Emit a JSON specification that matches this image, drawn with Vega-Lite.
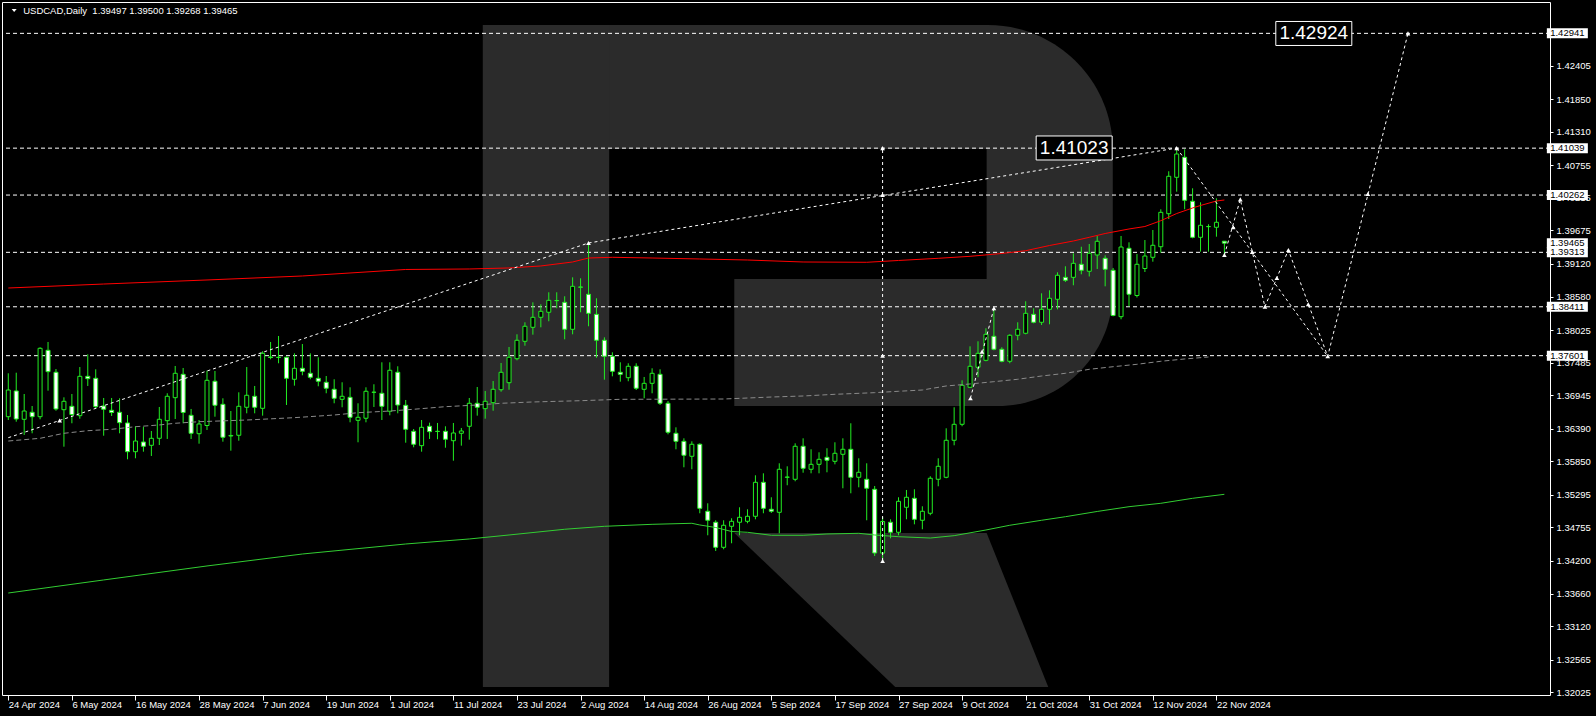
{
"$schema":"https://vega.github.io/schema/vega-lite/v6.json",
"width":1548,"height":693,
"autosize":{"type":"none"},
"padding":{"left":2,"top":2,"right":46,"bottom":21},
"background":"#000000",
"config":{"view":{"stroke":"#ffffff","strokeWidth":1,"fill":"#000000"},
 "axis":{"grid":false,"domain":false,"tickColor":"#ffffff","labelColor":"#ffffff","labelFont":"Liberation Sans","labelFontSize":9.5,"labelOverlap":false,"labelFlush":false,"labelBound":false,"labelSeparation":0},
 "axisBottom":{"tickSize":5,"labelAlign":"left","labelPadding":-1,"labelDx":1},
 "axisRight":{"tickSize":3,"labelPadding":3}},
"datasets":{
"candles":[
{"i":0,"o":1.3659,"h":1.37309,"l":1.36535,"c":1.37032},
{"i":1,"o":1.37016,"h":1.37319,"l":1.36507,"c":1.36552},
{"i":2,"o":1.36547,"h":1.36966,"l":1.36287,"c":1.36684},
{"i":3,"o":1.36663,"h":1.36767,"l":1.36315,"c":1.3659},
{"i":4,"o":1.3659,"h":1.3774,"l":1.36547,"c":1.37723},
{"i":5,"o":1.3769,"h":1.37828,"l":1.37021,"c":1.37336},
{"i":6,"o":1.37326,"h":1.3738,"l":1.36689,"c":1.36718},
{"i":7,"o":1.36706,"h":1.36911,"l":1.36093,"c":1.36845},
{"i":8,"o":1.36762,"h":1.36966,"l":1.36481,"c":1.36626},
{"i":9,"o":1.36607,"h":1.37413,"l":1.36557,"c":1.37259},
{"i":10,"o":1.37259,"h":1.37624,"l":1.37099,"c":1.3722},
{"i":11,"o":1.37226,"h":1.37375,"l":1.36729,"c":1.36756},
{"i":12,"o":1.36767,"h":1.369,"l":1.36275,"c":1.36713},
{"i":13,"o":1.36696,"h":1.369,"l":1.36602,"c":1.3666},
{"i":14,"o":1.36663,"h":1.36895,"l":1.36315,"c":1.36491},
{"i":15,"o":1.36486,"h":1.36618,"l":1.35884,"c":1.3601},
{"i":16,"o":1.3601,"h":1.36431,"l":1.35901,"c":1.36187},
{"i":17,"o":1.36171,"h":1.36424,"l":1.3601,"c":1.361},
{"i":18,"o":1.36116,"h":1.36353,"l":1.35939,"c":1.36232},
{"i":19,"o":1.36232,"h":1.36751,"l":1.36121,"c":1.36547},
{"i":20,"o":1.36524,"h":1.36978,"l":1.36221,"c":1.36928},
{"i":21,"o":1.36905,"h":1.3743,"l":1.36552,"c":1.37309},
{"i":22,"o":1.37292,"h":1.37397,"l":1.36481,"c":1.3666},
{"i":23,"o":1.36613,"h":1.36718,"l":1.36221,"c":1.36315},
{"i":24,"o":1.36308,"h":1.36535,"l":1.36143,"c":1.36469},
{"i":25,"o":1.36444,"h":1.37352,"l":1.3637,"c":1.37193},
{"i":26,"o":1.37177,"h":1.37347,"l":1.3659,"c":1.36779},
{"i":27,"o":1.36795,"h":1.36895,"l":1.36176,"c":1.36249},
{"i":28,"o":1.3627,"h":1.36684,"l":1.36027,"c":1.36279},
{"i":29,"o":1.36282,"h":1.36994,"l":1.36192,"c":1.36762},
{"i":30,"o":1.36746,"h":1.37413,"l":1.36646,"c":1.36945},
{"i":31,"o":1.36928,"h":1.37099,"l":1.36646,"c":1.36746},
{"i":32,"o":1.36729,"h":1.37674,"l":1.36607,"c":1.3764},
{"i":33,"o":1.37579,"h":1.37828,"l":1.37541,"c":1.37571},
{"i":34,"o":1.37574,"h":1.37927,"l":1.37475,"c":1.37571},
{"i":35,"o":1.37574,"h":1.37587,"l":1.36784,"c":1.37226},
{"i":36,"o":1.3721,"h":1.3764,"l":1.37104,"c":1.37392},
{"i":37,"o":1.37392,"h":1.37794,"l":1.37276,"c":1.37342},
{"i":38,"o":1.37309,"h":1.3764,"l":1.3721,"c":1.37243},
{"i":39,"o":1.37226,"h":1.37574,"l":1.37094,"c":1.37177},
{"i":40,"o":1.3716,"h":1.37264,"l":1.36978,"c":1.37061},
{"i":41,"o":1.37044,"h":1.3721,"l":1.36812,"c":1.36895},
{"i":42,"o":1.36878,"h":1.3716,"l":1.36746,"c":1.36928},
{"i":43,"o":1.36911,"h":1.37077,"l":1.36497,"c":1.3658},
{"i":44,"o":1.3653,"h":1.36812,"l":1.36166,"c":1.3658},
{"i":45,"o":1.36564,"h":1.37077,"l":1.36497,"c":1.37011},
{"i":46,"o":1.36994,"h":1.37127,"l":1.36751,"c":1.36996},
{"i":47,"o":1.36978,"h":1.37491,"l":1.36535,"c":1.36762},
{"i":48,"o":1.3668,"h":1.37491,"l":1.36613,"c":1.37359},
{"i":49,"o":1.37326,"h":1.37425,"l":1.36646,"c":1.36784},
{"i":50,"o":1.36779,"h":1.36867,"l":1.36159,"c":1.36381},
{"i":51,"o":1.36348,"h":1.36386,"l":1.36083,"c":1.36133},
{"i":52,"o":1.3611,"h":1.36535,"l":1.3601,"c":1.36414},
{"i":53,"o":1.36431,"h":1.36491,"l":1.36221,"c":1.36342},
{"i":54,"o":1.36348,"h":1.36486,"l":1.36216,"c":1.36345},
{"i":55,"o":1.36348,"h":1.36431,"l":1.36076,"c":1.36216},
{"i":56,"o":1.36192,"h":1.36486,"l":1.35861,"c":1.3632},
{"i":57,"o":1.36315,"h":1.36403,"l":1.3611,"c":1.36353},
{"i":58,"o":1.36431,"h":1.369,"l":1.36209,"c":1.36812},
{"i":59,"o":1.36812,"h":1.37082,"l":1.36607,"c":1.36746},
{"i":60,"o":1.36723,"h":1.37016,"l":1.36557,"c":1.36845},
{"i":61,"o":1.36822,"h":1.37181,"l":1.36689,"c":1.37044},
{"i":62,"o":1.37037,"h":1.3748,"l":1.37004,"c":1.37326},
{"i":63,"o":1.37153,"h":1.37745,"l":1.37037,"c":1.37574},
{"i":64,"o":1.37551,"h":1.37955,"l":1.37524,"c":1.37856},
{"i":65,"o":1.37839,"h":1.38154,"l":1.37766,"c":1.38088},
{"i":66,"o":1.38071,"h":1.38485,"l":1.37949,"c":1.38237},
{"i":67,"o":1.38237,"h":1.38452,"l":1.38071,"c":1.38336},
{"i":68,"o":1.3832,"h":1.38651,"l":1.38171,"c":1.38518},
{"i":69,"o":1.38512,"h":1.38651,"l":1.38386,"c":1.38515},
{"i":70,"o":1.38485,"h":1.38585,"l":1.37872,"c":1.38038},
{"i":71,"o":1.38038,"h":1.38899,"l":1.37955,"c":1.3875},
{"i":72,"o":1.38734,"h":1.38883,"l":1.3832,"c":1.38739},
{"i":73,"o":1.38618,"h":1.39468,"l":1.38088,"c":1.38303},
{"i":74,"o":1.38286,"h":1.38552,"l":1.37567,"c":1.37856},
{"i":75,"o":1.37856,"h":1.37905,"l":1.37203,"c":1.37591},
{"i":76,"o":1.37591,"h":1.37657,"l":1.37259,"c":1.37342},
{"i":77,"o":1.37326,"h":1.37491,"l":1.3717,"c":1.37292},
{"i":78,"o":1.37236,"h":1.37475,"l":1.37177,"c":1.37425},
{"i":79,"o":1.37425,"h":1.37475,"l":1.37032,"c":1.37061},
{"i":80,"o":1.37044,"h":1.37248,"l":1.36895,"c":1.37143},
{"i":81,"o":1.37143,"h":1.37392,"l":1.36978,"c":1.37309},
{"i":82,"o":1.37292,"h":1.37375,"l":1.36784,"c":1.36812},
{"i":83,"o":1.36812,"h":1.3685,"l":1.36298,"c":1.36332},
{"i":84,"o":1.36315,"h":1.36414,"l":1.3605,"c":1.36182},
{"i":85,"o":1.36182,"h":1.36232,"l":1.35752,"c":1.35951},
{"i":86,"o":1.35934,"h":1.36182,"l":1.35719,"c":1.36133},
{"i":87,"o":1.36133,"h":1.36149,"l":1.3499,"c":1.35072},
{"i":88,"o":1.35023,"h":1.35155,"l":1.34625,"c":1.34874},
{"i":89,"o":1.34841,"h":1.34874,"l":1.34365,"c":1.34426},
{"i":90,"o":1.34426,"h":1.34874,"l":1.34393,"c":1.34791},
{"i":91,"o":1.34774,"h":1.34907,"l":1.34493,"c":1.34857},
{"i":92,"o":1.34841,"h":1.35089,"l":1.34625,"c":1.34923},
{"i":93,"o":1.34857,"h":1.35056,"l":1.34824,"c":1.3494},
{"i":94,"o":1.3494,"h":1.35619,"l":1.3489,"c":1.35503},
{"i":95,"o":1.35503,"h":1.35652,"l":1.3499,"c":1.35072},
{"i":96,"o":1.35056,"h":1.35255,"l":1.34995,"c":1.35023},
{"i":97,"o":1.35006,"h":1.35818,"l":1.34658,"c":1.35719},
{"i":98,"o":1.35586,"h":1.35768,"l":1.35454,"c":1.3559},
{"i":99,"o":1.35553,"h":1.36149,"l":1.3552,"c":1.361},
{"i":100,"o":1.361,"h":1.36232,"l":1.35662,"c":1.35735},
{"i":101,"o":1.35719,"h":1.3605,"l":1.35652,"c":1.35801},
{"i":102,"o":1.35801,"h":1.36,"l":1.35652,"c":1.35884},
{"i":103,"o":1.35917,"h":1.36067,"l":1.35669,"c":1.35868},
{"i":104,"o":1.35851,"h":1.36166,"l":1.35801,"c":1.35984},
{"i":105,"o":1.35967,"h":1.36232,"l":1.35404,"c":1.3605},
{"i":106,"o":1.3605,"h":1.36481,"l":1.35321,"c":1.35586},
{"i":107,"o":1.35586,"h":1.35901,"l":1.3542,"c":1.35669},
{"i":108,"o":1.35553,"h":1.35818,"l":1.34874,"c":1.35404},
{"i":109,"o":1.35387,"h":1.35442,"l":1.34282,"c":1.34332},
{"i":110,"o":1.3433,"h":1.34928,"l":1.34199,"c":1.34854},
{"i":111,"o":1.34841,"h":1.3489,"l":1.34575,"c":1.34675},
{"i":112,"o":1.34675,"h":1.35255,"l":1.34625,"c":1.35188},
{"i":113,"o":1.35089,"h":1.35376,"l":1.3489,"c":1.35255},
{"i":114,"o":1.35238,"h":1.35387,"l":1.34807,"c":1.3489},
{"i":115,"o":1.34874,"h":1.35106,"l":1.34725,"c":1.35023},
{"i":116,"o":1.3499,"h":1.35603,"l":1.34957,"c":1.3557},
{"i":117,"o":1.35553,"h":1.35901,"l":1.35437,"c":1.35768},
{"i":118,"o":1.35586,"h":1.36398,"l":1.3557,"c":1.36199},
{"i":119,"o":1.36199,"h":1.36746,"l":1.36116,"c":1.36464},
{"i":120,"o":1.36464,"h":1.37193,"l":1.36431,"c":1.3711},
{"i":121,"o":1.37077,"h":1.37756,"l":1.37066,"c":1.37425},
{"i":122,"o":1.37408,"h":1.37839,"l":1.37243,"c":1.3764},
{"i":123,"o":1.37524,"h":1.38055,"l":1.37508,"c":1.37955},
{"i":124,"o":1.37922,"h":1.38386,"l":1.3769,"c":1.37707},
{"i":125,"o":1.37707,"h":1.3774,"l":1.37491,"c":1.37508},
{"i":126,"o":1.37508,"h":1.37955,"l":1.37475,"c":1.37939},
{"i":127,"o":1.37939,"h":1.38154,"l":1.37856,"c":1.38038},
{"i":128,"o":1.37972,"h":1.38502,"l":1.37955,"c":1.38303},
{"i":129,"o":1.38286,"h":1.38386,"l":1.38137,"c":1.38154},
{"i":130,"o":1.38154,"h":1.38634,"l":1.38109,"c":1.38369},
{"i":131,"o":1.38369,"h":1.38684,"l":1.38121,"c":1.38552},
{"i":132,"o":1.38535,"h":1.38982,"l":1.38369,"c":1.38933},
{"i":133,"o":1.38899,"h":1.39082,"l":1.38822,"c":1.3885},
{"i":134,"o":1.38899,"h":1.39297,"l":1.38767,"c":1.39131},
{"i":135,"o":1.39115,"h":1.39406,"l":1.38949,"c":1.39015},
{"i":136,"o":1.38999,"h":1.39451,"l":1.38913,"c":1.39297},
{"i":137,"o":1.39269,"h":1.39584,"l":1.39037,"c":1.39496},
{"i":138,"o":1.39214,"h":1.39264,"l":1.3875,"c":1.39032},
{"i":139,"o":1.39015,"h":1.39054,"l":1.38253,"c":1.38267},
{"i":140,"o":1.38247,"h":1.39584,"l":1.38204,"c":1.39401},
{"i":141,"o":1.3938,"h":1.39479,"l":1.38419,"c":1.38618},
{"i":142,"o":1.38598,"h":1.39285,"l":1.38565,"c":1.39115},
{"i":143,"o":1.39045,"h":1.39517,"l":1.38987,"c":1.39252},
{"i":144,"o":1.39231,"h":1.39683,"l":1.39158,"c":1.3943},
{"i":145,"o":1.39406,"h":1.40026,"l":1.39307,"c":1.39976},
{"i":146,"o":1.39953,"h":1.40656,"l":1.39865,"c":1.40573},
{"i":147,"o":1.40556,"h":1.4104,"l":1.40318,"c":1.40942},
{"i":148,"o":1.40888,"h":1.4102,"l":1.40026,"c":1.40175},
{"i":149,"o":1.40159,"h":1.40374,"l":1.39546,"c":1.39562},
{"i":150,"o":1.39562,"h":1.40142,"l":1.39324,"c":1.39761},
{"i":151,"o":1.39738,"h":1.39778,"l":1.39324,"c":1.39741},
{"i":152,"o":1.39728,"h":1.40208,"l":1.39572,"c":1.39811},
{"i":153,"o":1.39497,"h":1.395,"l":1.39268,"c":1.39465}
],
"maRed":[
{"i":0,"v":1.38722},{"i":12,"v":1.38788},{"i":25,"v":1.38855},{"i":37,"v":1.38921},{"i":50,"v":1.39029},{"i":58,"v":1.39037},{"i":63,"v":1.39054},{"i":67,"v":1.39087},{"i":71,"v":1.39153},{"i":73,"v":1.39219},{"i":76,"v":1.39231},{"i":81,"v":1.39219},{"i":87,"v":1.39203},{"i":93,"v":1.39186},{"i":100,"v":1.39153},{"i":108,"v":1.39148},{"i":112,"v":1.39178},{"i":117,"v":1.39214},{"i":121,"v":1.39247},{"i":125,"v":1.39294},{"i":128,"v":1.3934},{"i":131,"v":1.39426},{"i":134,"v":1.39501},{"i":136,"v":1.39562},{"i":138,"v":1.39625},{"i":141,"v":1.397},{"i":143,"v":1.39741},{"i":145,"v":1.39837},{"i":147,"v":1.39956},{"i":149,"v":1.40048},{"i":150,"v":1.40089},{"i":152,"v":1.40164},{"i":153,"v":1.4018}
],
"maGreen":[
{"i":0,"v":1.33669},{"i":12,"v":1.33885},{"i":25,"v":1.34117},{"i":37,"v":1.34315},{"i":50,"v":1.34481},{"i":58,"v":1.34564},{"i":63,"v":1.3463},{"i":70,"v":1.34725},{"i":75,"v":1.34774},{"i":81,"v":1.34807},{"i":86,"v":1.34824},{"i":87,"v":1.34796},{"i":89,"v":1.34754},{"i":91,"v":1.34688},{"i":93,"v":1.34675},{"i":96,"v":1.34625},{"i":100,"v":1.34625},{"i":103,"v":1.34647},{"i":107,"v":1.34658},{"i":109,"v":1.3463},{"i":112,"v":1.34602},{"i":116,"v":1.3458},{"i":119,"v":1.34619},{"i":123,"v":1.34713},{"i":126,"v":1.34791},{"i":130,"v":1.34874},{"i":133,"v":1.34933},{"i":137,"v":1.3502},{"i":141,"v":1.35099},{"i":145,"v":1.35155},{"i":149,"v":1.35238},{"i":153,"v":1.35304}
],
"maGray":[
{"i":0,"v":1.36187},{"i":4,"v":1.36232},{"i":7,"v":1.36315},{"i":10,"v":1.36358},{"i":13,"v":1.36381},{"i":16,"v":1.36424},{"i":19,"v":1.36453},{"i":21,"v":1.36481},{"i":24,"v":1.36507},{"i":30,"v":1.36535},{"i":36,"v":1.36574},{"i":41,"v":1.36618},{"i":44,"v":1.36656},{"i":48,"v":1.36684},{"i":51,"v":1.36713},{"i":55,"v":1.36756},{"i":59,"v":1.36784},{"i":62,"v":1.36812},{"i":66,"v":1.36834},{"i":72,"v":1.36855},{"i":77,"v":1.36878},{"i":90,"v":1.36883},{"i":96,"v":1.36916},{"i":100,"v":1.36933},{"i":104,"v":1.36961},{"i":109,"v":1.36988},{"i":112,"v":1.37011},{"i":115,"v":1.37032},{"i":118,"v":1.37099},{"i":121,"v":1.37132},{"i":124,"v":1.3717},{"i":127,"v":1.3721},{"i":130,"v":1.37264},{"i":133,"v":1.37309},{"i":136,"v":1.37375},{"i":139,"v":1.37418},{"i":142,"v":1.37458},{"i":145,"v":1.37508},{"i":148,"v":1.37546},{"i":151,"v":1.37579}
],
"levels":[{"p":1.42941},{"p":1.41039},{"p":1.40262},{"p":1.39313},{"p":1.38411},{"p":1.37601}],
"paths":[
{"g":"t1","k":0,"i":0,"p":1.36242},{"g":"t1","k":1,"i":73,"p":1.39468},
{"g":"t2","k":0,"i":73,"p":1.39468},{"g":"t2","k":1,"i":147,"p":1.4104},
{"g":"v","k":0,"i":110,"p":1.34199},{"g":"v","k":1,"i":110,"p":1.41039},
{"g":"w","k":0,"i":121.05,"p":1.36895},{"g":"w","k":1,"i":124,"p":1.38386},
{"g":"a","k":0,"i":153,"p":1.39269},{"g":"a","k":1,"i":155,"p":1.4019},{"g":"a","k":2,"i":158.1,"p":1.38411},{"g":"a","k":3,"i":161.05,"p":1.39352},{"g":"a","k":4,"i":166,"p":1.3759},{"g":"a","k":5,"i":176.1,"p":1.42941},
{"g":"b","k":0,"i":147,"p":1.4104},{"g":"b","k":1,"i":166,"p":1.3759}
],
"marks":[
{"i":6.46,"p":1.36527},{"i":73,"p":1.39468},{"i":110,"p":1.34199},{"i":110,"p":1.40262},{"i":110,"p":1.37601},{"i":110,"p":1.41039},{"i":121.05,"p":1.36895},{"i":122.5,"p":1.37667},{"i":124,"p":1.38386},{"i":147,"p":1.4104},{"i":153,"p":1.39269},{"i":154.1,"p":1.39728},{"i":155,"p":1.4019},{"i":156.5,"p":1.3932},{"i":158.1,"p":1.38411},{"i":159.6,"p":1.38888},{"i":161.05,"p":1.39352},{"i":163.55,"p":1.38452},{"i":166,"p":1.3759},{"i":171.05,"p":1.40279},{"i":176.1,"p":1.42941}
],
"tags":[{"p":1.42941},{"p":1.41039},{"p":1.40262},{"p":1.39465},{"p":1.39313},{"p":1.38411},{"p":1.37601}],
"bigLabels":[{"t":"1.41023","i":134.1,"p":1.41042},{"t":"1.42924","i":164.25,"p":1.42939}],
"leg":[{"ly":1.34663,"lx1":91.34,"lx2":123.09},{"ly":1.32112,"lx1":111.59,"lx2":130.84}]
},
"layer":[
{"data":{"values":[{}]},
 "mark":{"type":"rect","fill":"#2b2b2b","cornerRadiusTopRight":125,"cornerRadiusBottomRight":115},
 "encoding":{
  "x":{"datum":59.71,"type":"quantitative","scale":{"domain":[-0.1625,193.3375],"nice":false,"zero":false},"axis":{"orient":"bottom","values":[0,8,16,24,32,40,48,56,64,72,80,88,96,104,112,120,128,136,144,152],"labelExpr":"['24 Apr 2024','6 May 2024','16 May 2024','28 May 2024','7 Jun 2024','19 Jun 2024','1 Jul 2024','11 Jul 2024','23 Jul 2024','2 Aug 2024','14 Aug 2024','26 Aug 2024','5 Sep 2024','17 Sep 2024','27 Sep 2024','9 Oct 2024','21 Oct 2024','31 Oct 2024','12 Nov 2024','22 Nov 2024'][round(datum.value/8)]","title":null,"labelOverlap":false}},
  "x2":{"datum":138.96},
  "y":{"datum":1.43079,"type":"quantitative","scale":{"domain":[1.319792,1.434604],"nice":false,"zero":false},"axis":{"orient":"right","values":[1.32025,1.32565,1.3312,1.3366,1.342,1.34755,1.35295,1.3585,1.3639,1.36945,1.37485,1.38025,1.3858,1.3912,1.39675,1.40215,1.40755,1.4131,1.4185,1.42405],"format":".5f","title":null,"labelOverlap":false}},
  "y2":{"datum":1.36767}}},
{"data":{"values":[{}]},
 "mark":{"type":"rect","fill":"#000000"},
 "encoding":{
  "x":{"datum":75.59,"type":"quantitative","scale":{"domain":[-0.1625,193.3375],"nice":false,"zero":false},"axis":{"orient":"bottom","values":[0,8,16,24,32,40,48,56,64,72,80,88,96,104,112,120,128,136,144,152],"labelExpr":"['24 Apr 2024','6 May 2024','16 May 2024','28 May 2024','7 Jun 2024','19 Jun 2024','1 Jul 2024','11 Jul 2024','23 Jul 2024','2 Aug 2024','14 Aug 2024','26 Aug 2024','5 Sep 2024','17 Sep 2024','27 Sep 2024','9 Oct 2024','21 Oct 2024','31 Oct 2024','12 Nov 2024','22 Nov 2024'][round(datum.value/8)]","title":null,"labelOverlap":false}},
  "x2":{"datum":123.09},
  "y":{"datum":1.41025,"type":"quantitative","scale":{"domain":[1.319792,1.434604],"nice":false,"zero":false},"axis":{"orient":"right","values":[1.32025,1.32565,1.3312,1.3366,1.342,1.34755,1.35295,1.3585,1.3639,1.36945,1.37485,1.38025,1.3858,1.3912,1.39675,1.40215,1.40755,1.4131,1.4185,1.42405],"format":".5f","title":null,"labelOverlap":false}},
  "y2":{"datum":1.38871}}},
{"data":{"values":[{}]},
 "mark":{"type":"rect","fill":"#000000"},
 "encoding":{
  "x":{"datum":75.59,"type":"quantitative","scale":{"domain":[-0.1625,193.3375],"nice":false,"zero":false},"axis":{"orient":"bottom","values":[0,8,16,24,32,40,48,56,64,72,80,88,96,104,112,120,128,136,144,152],"labelExpr":"['24 Apr 2024','6 May 2024','16 May 2024','28 May 2024','7 Jun 2024','19 Jun 2024','1 Jul 2024','11 Jul 2024','23 Jul 2024','2 Aug 2024','14 Aug 2024','26 Aug 2024','5 Sep 2024','17 Sep 2024','27 Sep 2024','9 Oct 2024','21 Oct 2024','31 Oct 2024','12 Nov 2024','22 Nov 2024'][round(datum.value/8)]","title":null,"labelOverlap":false}},
  "x2":{"datum":91.34},
  "y":{"datum":1.38871,"type":"quantitative","scale":{"domain":[1.319792,1.434604],"nice":false,"zero":false},"axis":{"orient":"right","values":[1.32025,1.32565,1.3312,1.3366,1.342,1.34755,1.35295,1.3585,1.3639,1.36945,1.37485,1.38025,1.3858,1.3912,1.39675,1.40215,1.40755,1.4131,1.4185,1.42405],"format":".5f","title":null,"labelOverlap":false}},
  "y2":{"datum":1.36767}}},
{"data":{"values":[{}]},
 "mark":{"type":"rect","fill":"#2b2b2b"},
 "encoding":{
  "x":{"datum":59.71,"type":"quantitative","scale":{"domain":[-0.1625,193.3375],"nice":false,"zero":false},"axis":{"orient":"bottom","values":[0,8,16,24,32,40,48,56,64,72,80,88,96,104,112,120,128,136,144,152],"labelExpr":"['24 Apr 2024','6 May 2024','16 May 2024','28 May 2024','7 Jun 2024','19 Jun 2024','1 Jul 2024','11 Jul 2024','23 Jul 2024','2 Aug 2024','14 Aug 2024','26 Aug 2024','5 Sep 2024','17 Sep 2024','27 Sep 2024','9 Oct 2024','21 Oct 2024','31 Oct 2024','12 Nov 2024','22 Nov 2024'][round(datum.value/8)]","title":null,"labelOverlap":false}},
  "x2":{"datum":75.59},
  "y":{"datum":1.43079,"type":"quantitative","scale":{"domain":[1.319792,1.434604],"nice":false,"zero":false},"axis":{"orient":"right","values":[1.32025,1.32565,1.3312,1.3366,1.342,1.34755,1.35295,1.3585,1.3639,1.36945,1.37485,1.38025,1.3858,1.3912,1.39675,1.40215,1.40755,1.4131,1.4185,1.42405],"format":".5f","title":null,"labelOverlap":false}},
  "y2":{"datum":1.32112}}},
{"data":{"name":"leg"},
 "mark":{"type":"area","orient":"horizontal","fill":"#2b2b2b"},
 "encoding":{
  "y":{"field":"ly","type":"quantitative","scale":{"domain":[1.319792,1.434604],"nice":false,"zero":false},"axis":{"orient":"right","values":[1.32025,1.32565,1.3312,1.3366,1.342,1.34755,1.35295,1.3585,1.3639,1.36945,1.37485,1.38025,1.3858,1.3912,1.39675,1.40215,1.40755,1.4131,1.4185,1.42405],"format":".5f","title":null,"labelOverlap":false}},
  "x":{"field":"lx1","type":"quantitative","scale":{"domain":[-0.1625,193.3375],"nice":false,"zero":false},"axis":{"orient":"bottom","values":[0,8,16,24,32,40,48,56,64,72,80,88,96,104,112,120,128,136,144,152],"labelExpr":"['24 Apr 2024','6 May 2024','16 May 2024','28 May 2024','7 Jun 2024','19 Jun 2024','1 Jul 2024','11 Jul 2024','23 Jul 2024','2 Aug 2024','14 Aug 2024','26 Aug 2024','5 Sep 2024','17 Sep 2024','27 Sep 2024','9 Oct 2024','21 Oct 2024','31 Oct 2024','12 Nov 2024','22 Nov 2024'][round(datum.value/8)]","title":null,"labelOverlap":false}},
  "x2":{"field":"lx2"}}},
{"data":{"name":"levels"},
 "mark":{"type":"rule","color":"#ffffff","strokeWidth":1,"strokeDash":[4,3]},
 "encoding":{
  "y":{"field":"p","type":"quantitative","scale":{"domain":[1.319792,1.434604],"nice":false,"zero":false},"axis":{"orient":"right","values":[1.32025,1.32565,1.3312,1.3366,1.342,1.34755,1.35295,1.3585,1.3639,1.36945,1.37485,1.38025,1.3858,1.3912,1.39675,1.40215,1.40755,1.4131,1.4185,1.42405],"format":".5f","title":null,"labelOverlap":false}}}},
{"data":{"name":"candles"},
 "mark":{"type":"rule","color":"#22ee22","strokeWidth":1,"clip":true},
 "encoding":{
  "x":{"field":"i","type":"quantitative","scale":{"domain":[-0.1625,193.3375],"nice":false,"zero":false},"axis":{"orient":"bottom","values":[0,8,16,24,32,40,48,56,64,72,80,88,96,104,112,120,128,136,144,152],"labelExpr":"['24 Apr 2024','6 May 2024','16 May 2024','28 May 2024','7 Jun 2024','19 Jun 2024','1 Jul 2024','11 Jul 2024','23 Jul 2024','2 Aug 2024','14 Aug 2024','26 Aug 2024','5 Sep 2024','17 Sep 2024','27 Sep 2024','9 Oct 2024','21 Oct 2024','31 Oct 2024','12 Nov 2024','22 Nov 2024'][round(datum.value/8)]","title":null,"labelOverlap":false}},
  "y":{"field":"l","type":"quantitative","scale":{"domain":[1.319792,1.434604],"nice":false,"zero":false},"axis":{"orient":"right","values":[1.32025,1.32565,1.3312,1.3366,1.342,1.34755,1.35295,1.3585,1.3639,1.36945,1.37485,1.38025,1.3858,1.3912,1.39675,1.40215,1.40755,1.4131,1.4185,1.42405],"format":".5f","title":null,"labelOverlap":false}},
  "y2":{"field":"h"}}},
{"data":{"name":"candles"},
 "mark":{"type":"bar","size":4,"stroke":"#22ee22","strokeWidth":1,"clip":true},
 "encoding":{
  "x":{"field":"i","type":"quantitative","scale":{"domain":[-0.1625,193.3375],"nice":false,"zero":false},"axis":{"orient":"bottom","values":[0,8,16,24,32,40,48,56,64,72,80,88,96,104,112,120,128,136,144,152],"labelExpr":"['24 Apr 2024','6 May 2024','16 May 2024','28 May 2024','7 Jun 2024','19 Jun 2024','1 Jul 2024','11 Jul 2024','23 Jul 2024','2 Aug 2024','14 Aug 2024','26 Aug 2024','5 Sep 2024','17 Sep 2024','27 Sep 2024','9 Oct 2024','21 Oct 2024','31 Oct 2024','12 Nov 2024','22 Nov 2024'][round(datum.value/8)]","title":null,"labelOverlap":false}},
  "y":{"field":"o","type":"quantitative","scale":{"domain":[1.319792,1.434604],"nice":false,"zero":false},"axis":{"orient":"right","values":[1.32025,1.32565,1.3312,1.3366,1.342,1.34755,1.35295,1.3585,1.3639,1.36945,1.37485,1.38025,1.3858,1.3912,1.39675,1.40215,1.40755,1.4131,1.4185,1.42405],"format":".5f","title":null,"labelOverlap":false}},
  "y2":{"field":"c"},
  "fill":{"condition":{"test":"datum.c < datum.o","value":"#ffffff"},"value":"#000000"}}},
{"data":{"name":"maRed"},
 "mark":{"type":"line","color":"#ff0000","strokeWidth":1,"clip":true},
 "encoding":{
  "x":{"field":"i","type":"quantitative","scale":{"domain":[-0.1625,193.3375],"nice":false,"zero":false},"axis":{"orient":"bottom","values":[0,8,16,24,32,40,48,56,64,72,80,88,96,104,112,120,128,136,144,152],"labelExpr":"['24 Apr 2024','6 May 2024','16 May 2024','28 May 2024','7 Jun 2024','19 Jun 2024','1 Jul 2024','11 Jul 2024','23 Jul 2024','2 Aug 2024','14 Aug 2024','26 Aug 2024','5 Sep 2024','17 Sep 2024','27 Sep 2024','9 Oct 2024','21 Oct 2024','31 Oct 2024','12 Nov 2024','22 Nov 2024'][round(datum.value/8)]","title":null,"labelOverlap":false}},
  "y":{"field":"v","type":"quantitative","scale":{"domain":[1.319792,1.434604],"nice":false,"zero":false},"axis":{"orient":"right","values":[1.32025,1.32565,1.3312,1.3366,1.342,1.34755,1.35295,1.3585,1.3639,1.36945,1.37485,1.38025,1.3858,1.3912,1.39675,1.40215,1.40755,1.4131,1.4185,1.42405],"format":".5f","title":null,"labelOverlap":false}}}},
{"data":{"name":"maGreen"},
 "mark":{"type":"line","color":"#32cd32","strokeWidth":1,"clip":true},
 "encoding":{
  "x":{"field":"i","type":"quantitative","scale":{"domain":[-0.1625,193.3375],"nice":false,"zero":false},"axis":{"orient":"bottom","values":[0,8,16,24,32,40,48,56,64,72,80,88,96,104,112,120,128,136,144,152],"labelExpr":"['24 Apr 2024','6 May 2024','16 May 2024','28 May 2024','7 Jun 2024','19 Jun 2024','1 Jul 2024','11 Jul 2024','23 Jul 2024','2 Aug 2024','14 Aug 2024','26 Aug 2024','5 Sep 2024','17 Sep 2024','27 Sep 2024','9 Oct 2024','21 Oct 2024','31 Oct 2024','12 Nov 2024','22 Nov 2024'][round(datum.value/8)]","title":null,"labelOverlap":false}},
  "y":{"field":"v","type":"quantitative","scale":{"domain":[1.319792,1.434604],"nice":false,"zero":false},"axis":{"orient":"right","values":[1.32025,1.32565,1.3312,1.3366,1.342,1.34755,1.35295,1.3585,1.3639,1.36945,1.37485,1.38025,1.3858,1.3912,1.39675,1.40215,1.40755,1.4131,1.4185,1.42405],"format":".5f","title":null,"labelOverlap":false}}}},
{"data":{"name":"maGray"},
 "mark":{"type":"line","color":"#8a8a8a","strokeWidth":1,"strokeDash":[5,3],"clip":true},
 "encoding":{
  "x":{"field":"i","type":"quantitative","scale":{"domain":[-0.1625,193.3375],"nice":false,"zero":false},"axis":{"orient":"bottom","values":[0,8,16,24,32,40,48,56,64,72,80,88,96,104,112,120,128,136,144,152],"labelExpr":"['24 Apr 2024','6 May 2024','16 May 2024','28 May 2024','7 Jun 2024','19 Jun 2024','1 Jul 2024','11 Jul 2024','23 Jul 2024','2 Aug 2024','14 Aug 2024','26 Aug 2024','5 Sep 2024','17 Sep 2024','27 Sep 2024','9 Oct 2024','21 Oct 2024','31 Oct 2024','12 Nov 2024','22 Nov 2024'][round(datum.value/8)]","title":null,"labelOverlap":false}},
  "y":{"field":"v","type":"quantitative","scale":{"domain":[1.319792,1.434604],"nice":false,"zero":false},"axis":{"orient":"right","values":[1.32025,1.32565,1.3312,1.3366,1.342,1.34755,1.35295,1.3585,1.3639,1.36945,1.37485,1.38025,1.3858,1.3912,1.39675,1.40215,1.40755,1.4131,1.4185,1.42405],"format":".5f","title":null,"labelOverlap":false}}}},
{"data":{"name":"paths"},
 "mark":{"type":"line","color":"#ffffff","strokeWidth":1,"strokeDash":[3,3],"clip":true},
 "encoding":{
  "x":{"field":"i","type":"quantitative","scale":{"domain":[-0.1625,193.3375],"nice":false,"zero":false},"axis":{"orient":"bottom","values":[0,8,16,24,32,40,48,56,64,72,80,88,96,104,112,120,128,136,144,152],"labelExpr":"['24 Apr 2024','6 May 2024','16 May 2024','28 May 2024','7 Jun 2024','19 Jun 2024','1 Jul 2024','11 Jul 2024','23 Jul 2024','2 Aug 2024','14 Aug 2024','26 Aug 2024','5 Sep 2024','17 Sep 2024','27 Sep 2024','9 Oct 2024','21 Oct 2024','31 Oct 2024','12 Nov 2024','22 Nov 2024'][round(datum.value/8)]","title":null,"labelOverlap":false}},
  "y":{"field":"p","type":"quantitative","scale":{"domain":[1.319792,1.434604],"nice":false,"zero":false},"axis":{"orient":"right","values":[1.32025,1.32565,1.3312,1.3366,1.342,1.34755,1.35295,1.3585,1.3639,1.36945,1.37485,1.38025,1.3858,1.3912,1.39675,1.40215,1.40755,1.4131,1.4185,1.42405],"format":".5f","title":null,"labelOverlap":false}},
  "detail":{"field":"g"},
  "order":{"field":"k"}}},
{"data":{"name":"marks"},
 "mark":{"type":"point","shape":"triangle-up","size":22,"filled":true,"color":"#ffffff","opacity":1},
 "encoding":{
  "x":{"field":"i","type":"quantitative","scale":{"domain":[-0.1625,193.3375],"nice":false,"zero":false},"axis":{"orient":"bottom","values":[0,8,16,24,32,40,48,56,64,72,80,88,96,104,112,120,128,136,144,152],"labelExpr":"['24 Apr 2024','6 May 2024','16 May 2024','28 May 2024','7 Jun 2024','19 Jun 2024','1 Jul 2024','11 Jul 2024','23 Jul 2024','2 Aug 2024','14 Aug 2024','26 Aug 2024','5 Sep 2024','17 Sep 2024','27 Sep 2024','9 Oct 2024','21 Oct 2024','31 Oct 2024','12 Nov 2024','22 Nov 2024'][round(datum.value/8)]","title":null,"labelOverlap":false}},
  "y":{"field":"p","type":"quantitative","scale":{"domain":[1.319792,1.434604],"nice":false,"zero":false},"axis":{"orient":"right","values":[1.32025,1.32565,1.3312,1.3366,1.342,1.34755,1.35295,1.3585,1.3639,1.36945,1.37485,1.38025,1.3858,1.3912,1.39675,1.40215,1.40755,1.4131,1.4185,1.42405],"format":".5f","title":null,"labelOverlap":false}}}},
{"data":{"name":"bigLabels"},
 "mark":{"type":"point","shape":"M-1,-0.3158H1V0.3158H-1Z","size":5776,"filled":true,"fill":"#000000","stroke":"#ffffff","strokeWidth":1,"opacity":1},
 "encoding":{
  "x":{"field":"i","type":"quantitative","scale":{"domain":[-0.1625,193.3375],"nice":false,"zero":false},"axis":{"orient":"bottom","values":[0,8,16,24,32,40,48,56,64,72,80,88,96,104,112,120,128,136,144,152],"labelExpr":"['24 Apr 2024','6 May 2024','16 May 2024','28 May 2024','7 Jun 2024','19 Jun 2024','1 Jul 2024','11 Jul 2024','23 Jul 2024','2 Aug 2024','14 Aug 2024','26 Aug 2024','5 Sep 2024','17 Sep 2024','27 Sep 2024','9 Oct 2024','21 Oct 2024','31 Oct 2024','12 Nov 2024','22 Nov 2024'][round(datum.value/8)]","title":null,"labelOverlap":false}},
  "y":{"field":"p","type":"quantitative","scale":{"domain":[1.319792,1.434604],"nice":false,"zero":false},"axis":{"orient":"right","values":[1.32025,1.32565,1.3312,1.3366,1.342,1.34755,1.35295,1.3585,1.3639,1.36945,1.37485,1.38025,1.3858,1.3912,1.39675,1.40215,1.40755,1.4131,1.4185,1.42405],"format":".5f","title":null,"labelOverlap":false}}}},
{"data":{"name":"bigLabels"},
 "mark":{"type":"text","color":"#ffffff","font":"Liberation Sans","fontSize":19,"align":"center","baseline":"middle"},
 "encoding":{
  "x":{"field":"i","type":"quantitative","scale":{"domain":[-0.1625,193.3375],"nice":false,"zero":false},"axis":{"orient":"bottom","values":[0,8,16,24,32,40,48,56,64,72,80,88,96,104,112,120,128,136,144,152],"labelExpr":"['24 Apr 2024','6 May 2024','16 May 2024','28 May 2024','7 Jun 2024','19 Jun 2024','1 Jul 2024','11 Jul 2024','23 Jul 2024','2 Aug 2024','14 Aug 2024','26 Aug 2024','5 Sep 2024','17 Sep 2024','27 Sep 2024','9 Oct 2024','21 Oct 2024','31 Oct 2024','12 Nov 2024','22 Nov 2024'][round(datum.value/8)]","title":null,"labelOverlap":false}},
  "y":{"field":"p","type":"quantitative","scale":{"domain":[1.319792,1.434604],"nice":false,"zero":false},"axis":{"orient":"right","values":[1.32025,1.32565,1.3312,1.3366,1.342,1.34755,1.35295,1.3585,1.3639,1.36945,1.37485,1.38025,1.3858,1.3912,1.39675,1.40215,1.40755,1.4131,1.4185,1.42405],"format":".5f","title":null,"labelOverlap":false}},
  "text":{"field":"t"}}},
{"data":{"name":"tags"},
 "mark":{"type":"point","shape":"M-1,-0.2439H1V0.2439H-1Z","size":1681,"filled":true,"fill":"#ffffff","opacity":1},
 "encoding":{
  "x":{"datum":196.15,"type":"quantitative","scale":{"domain":[-0.1625,193.3375],"nice":false,"zero":false},"axis":{"orient":"bottom","values":[0,8,16,24,32,40,48,56,64,72,80,88,96,104,112,120,128,136,144,152],"labelExpr":"['24 Apr 2024','6 May 2024','16 May 2024','28 May 2024','7 Jun 2024','19 Jun 2024','1 Jul 2024','11 Jul 2024','23 Jul 2024','2 Aug 2024','14 Aug 2024','26 Aug 2024','5 Sep 2024','17 Sep 2024','27 Sep 2024','9 Oct 2024','21 Oct 2024','31 Oct 2024','12 Nov 2024','22 Nov 2024'][round(datum.value/8)]","title":null,"labelOverlap":false}},
  "y":{"field":"p","type":"quantitative","scale":{"domain":[1.319792,1.434604],"nice":false,"zero":false},"axis":{"orient":"right","values":[1.32025,1.32565,1.3312,1.3366,1.342,1.34755,1.35295,1.3585,1.3639,1.36945,1.37485,1.38025,1.3858,1.3912,1.39675,1.40215,1.40755,1.4131,1.4185,1.42405],"format":".5f","title":null,"labelOverlap":false}}}},
{"data":{"name":"tags"},
 "mark":{"type":"text","color":"#000000","font":"Liberation Sans","fontSize":9.5,"align":"center","baseline":"middle"},
 "encoding":{
  "x":{"datum":196.15,"type":"quantitative","scale":{"domain":[-0.1625,193.3375],"nice":false,"zero":false},"axis":{"orient":"bottom","values":[0,8,16,24,32,40,48,56,64,72,80,88,96,104,112,120,128,136,144,152],"labelExpr":"['24 Apr 2024','6 May 2024','16 May 2024','28 May 2024','7 Jun 2024','19 Jun 2024','1 Jul 2024','11 Jul 2024','23 Jul 2024','2 Aug 2024','14 Aug 2024','26 Aug 2024','5 Sep 2024','17 Sep 2024','27 Sep 2024','9 Oct 2024','21 Oct 2024','31 Oct 2024','12 Nov 2024','22 Nov 2024'][round(datum.value/8)]","title":null,"labelOverlap":false}},
  "y":{"field":"p","type":"quantitative","scale":{"domain":[1.319792,1.434604],"nice":false,"zero":false},"axis":{"orient":"right","values":[1.32025,1.32565,1.3312,1.3366,1.342,1.34755,1.35295,1.3585,1.3639,1.36945,1.37485,1.38025,1.3858,1.3912,1.39675,1.40215,1.40755,1.4131,1.4185,1.42405],"format":".5f","title":null,"labelOverlap":false}},
  "text":{"field":"p","type":"quantitative","format":".5f"}}},
{"data":{"values":[{}]},
 "mark":{"type":"point","shape":"M-1,-0.6L1,-0.6L0,0.6Z","size":25,"filled":true,"color":"#ffffff","opacity":1},
 "encoding":{
  "x":{"datum":0.74,"type":"quantitative","scale":{"domain":[-0.1625,193.3375],"nice":false,"zero":false},"axis":{"orient":"bottom","values":[0,8,16,24,32,40,48,56,64,72,80,88,96,104,112,120,128,136,144,152],"labelExpr":"['24 Apr 2024','6 May 2024','16 May 2024','28 May 2024','7 Jun 2024','19 Jun 2024','1 Jul 2024','11 Jul 2024','23 Jul 2024','2 Aug 2024','14 Aug 2024','26 Aug 2024','5 Sep 2024','17 Sep 2024','27 Sep 2024','9 Oct 2024','21 Oct 2024','31 Oct 2024','12 Nov 2024','22 Nov 2024'][round(datum.value/8)]","title":null,"labelOverlap":false}},
  "y":{"datum":1.4332,"type":"quantitative","scale":{"domain":[1.319792,1.434604],"nice":false,"zero":false},"axis":{"orient":"right","values":[1.32025,1.32565,1.3312,1.3366,1.342,1.34755,1.35295,1.3585,1.3639,1.36945,1.37485,1.38025,1.3858,1.3912,1.39675,1.40215,1.40755,1.4131,1.4185,1.42405],"format":".5f","title":null,"labelOverlap":false}}}},
{"data":{"values":[{"t":"USDCAD,Daily\u00a0\u00a01.39497 1.39500 1.39268 1.39465"}]},
 "mark":{"type":"text","color":"#ffffff","font":"Liberation Sans","fontSize":9.5,"align":"left","baseline":"alphabetic"},
 "encoding":{
  "x":{"datum":1.875,"type":"quantitative","scale":{"domain":[-0.1625,193.3375],"nice":false,"zero":false},"axis":{"orient":"bottom","values":[0,8,16,24,32,40,48,56,64,72,80,88,96,104,112,120,128,136,144,152],"labelExpr":"['24 Apr 2024','6 May 2024','16 May 2024','28 May 2024','7 Jun 2024','19 Jun 2024','1 Jul 2024','11 Jul 2024','23 Jul 2024','2 Aug 2024','14 Aug 2024','26 Aug 2024','5 Sep 2024','17 Sep 2024','27 Sep 2024','9 Oct 2024','21 Oct 2024','31 Oct 2024','12 Nov 2024','22 Nov 2024'][round(datum.value/8)]","title":null,"labelOverlap":false}},
  "y":{"datum":1.43262,"type":"quantitative","scale":{"domain":[1.319792,1.434604],"nice":false,"zero":false},"axis":{"orient":"right","values":[1.32025,1.32565,1.3312,1.3366,1.342,1.34755,1.35295,1.3585,1.3639,1.36945,1.37485,1.38025,1.3858,1.3912,1.39675,1.40215,1.40755,1.4131,1.4185,1.42405],"format":".5f","title":null,"labelOverlap":false}},
  "text":{"field":"t"}}}
]
}
